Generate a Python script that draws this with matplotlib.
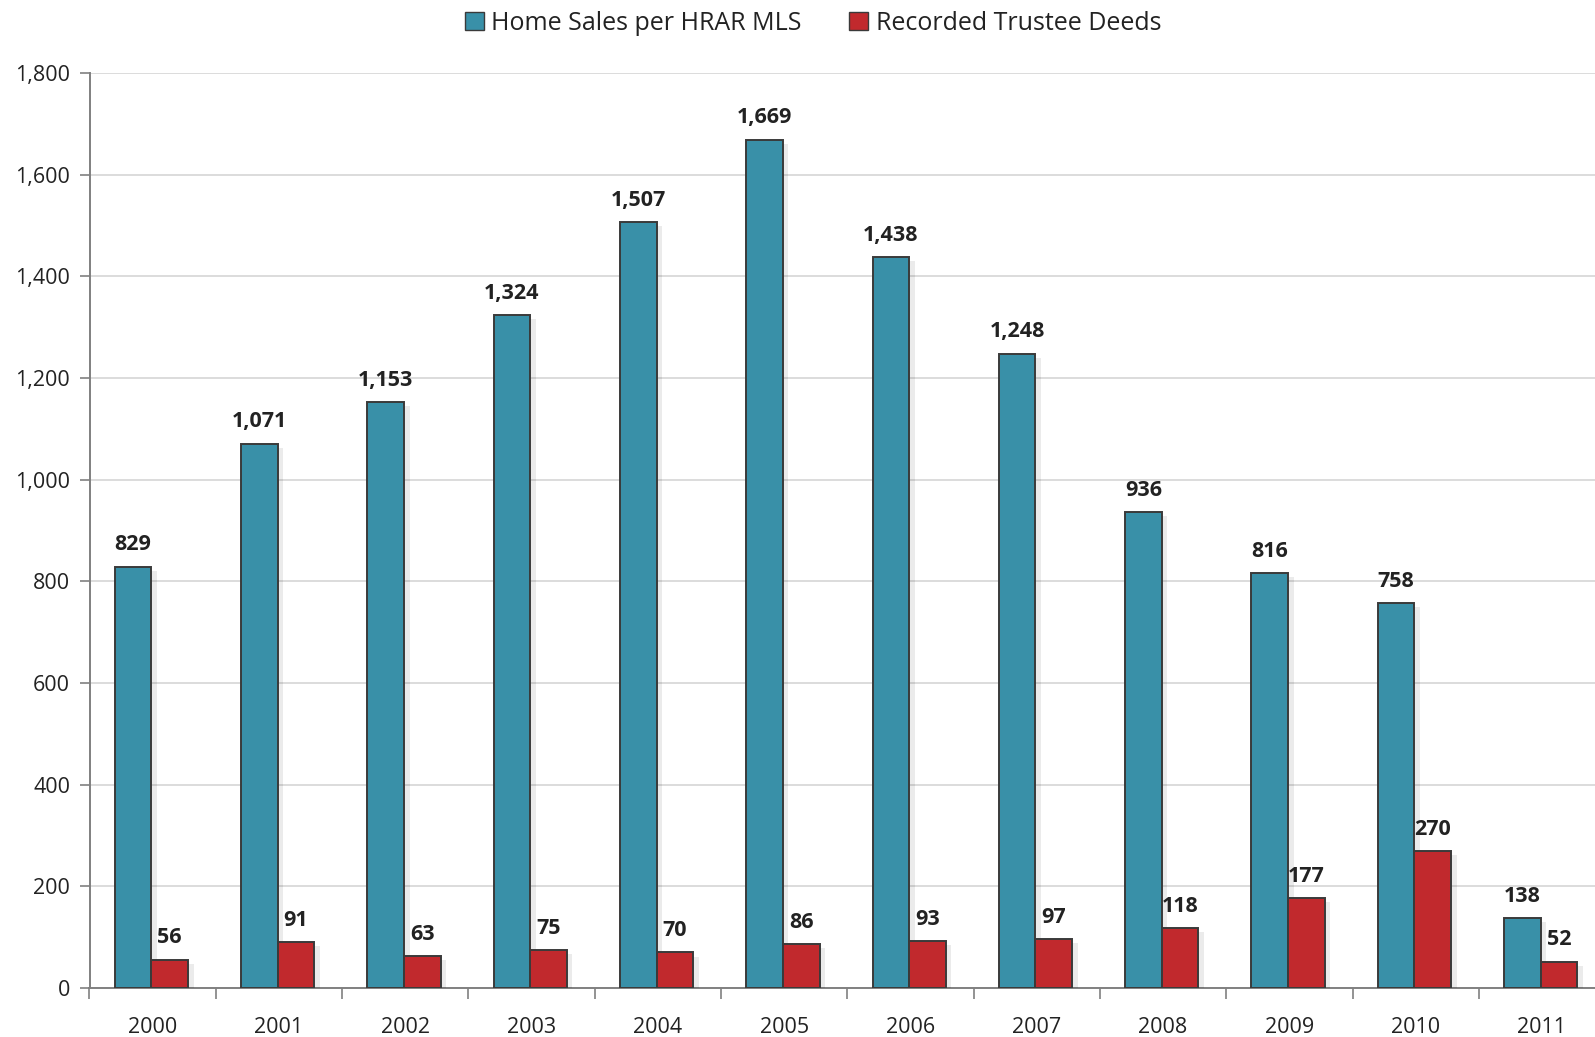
import matplotlib
matplotlib.use("Agg")
import matplotlib.pyplot as plt
import matplotlib.patheffects as pe
from matplotlib.patches import Patch
import numpy as np

years = ["2000", "2001", "2002", "2003", "2004", "2005", "2006", "2007", "2008", "2009", "2010", "2011"]
home_sales = [829, 1071, 1153, 1324, 1507, 1669, 1438, 1248, 936, 816, 758, 138]
trustee_deeds = [56, 91, 63, 75, 70, 86, 93, 97, 118, 177, 270, 52]
series_names = ["Home Sales per HRAR MLS", "Recorded Trustee Deeds"]

plt.rcParams['font.family'] = ['Open Sans', 'DejaVu Sans']

W, H = 1595, 1037
fig = plt.figure(figsize=(W / 100, H / 100), dpi=100)
ax = fig.add_axes([89.5 / W, 49 / H, 1 - 89.5 / W, (988 - 73) / H])

blue = "#3990A8"
red = "#C1292D"
edge = "#3a3a3a"
x = np.arange(len(years))
w = 0.29
shadow = [pe.SimplePatchShadow(offset=(4, -3), shadow_rgbFace="#000000", alpha=0.08), pe.Normal()]

b1 = ax.bar(x - w / 2 - 0.01, home_sales, width=w, color=blue, edgecolor=edge, linewidth=1.4, zorder=3)
b2 = ax.bar(x + w / 2 - 0.01, trustee_deeds, width=w, color=red, edgecolor=edge, linewidth=1.4, zorder=3)
for b in list(b1) + list(b2):
    b.set_path_effects(shadow)

for bars, vals in ((b1, home_sales), (b2, trustee_deeds)):
    for b, v in zip(bars, vals):
        ax.annotate(f"{v:,}", (b.get_x() + b.get_width() / 2, v), xytext=(0, 8),
                    textcoords="offset points", ha="center", va="bottom",
                    fontsize=15.5, fontweight="bold", color="#222222", zorder=4)

ax.set_yticks(np.arange(0, 1801, 200))
ax.set_yticklabels([f"{v:,}" for v in range(0, 1801, 200)], fontsize=15.5, color="#222222")
ax.set_xticks(x)
ax.set_xticklabels(years, fontsize=15.5, color="#222222")
ax.set_xticks(np.arange(-0.5, 11.0, 1), minor=True)
ax.set_ylim(0, 1800)
ax.set_xlim(-0.5, 11.42)
ax.tick_params(axis="x", which="major", length=0, pad=21)
ax.tick_params(axis="x", which="minor", length=8, color="#808080", width=1.2)
ax.tick_params(axis="y", length=7, color="#808080", width=1.2, pad=7)

ax.grid(axis="y", color="#d9d9d9", linewidth=1.3, zorder=0)
ax.set_axisbelow(True)
for s in ("top", "right"):
    ax.spines[s].set_visible(False)
for s in ("left", "bottom"):
    ax.spines[s].set_color("#808080")
    ax.spines[s].set_linewidth(1.4)

handles = [Patch(facecolor=blue, edgecolor=edge, linewidth=1.0),
           Patch(facecolor=red, edgecolor=edge, linewidth=1.0)]
fig.legend(handles, series_names, loc="center", bbox_to_anchor=(813 / W, 1 - 23 / H),
           ncol=2, frameon=False, fontsize=18, handlelength=0.75, handleheight=0.75,
           handletextpad=0.3, columnspacing=1.9, labelcolor="#222222")

fig.savefig("out.png", dpi=100)
